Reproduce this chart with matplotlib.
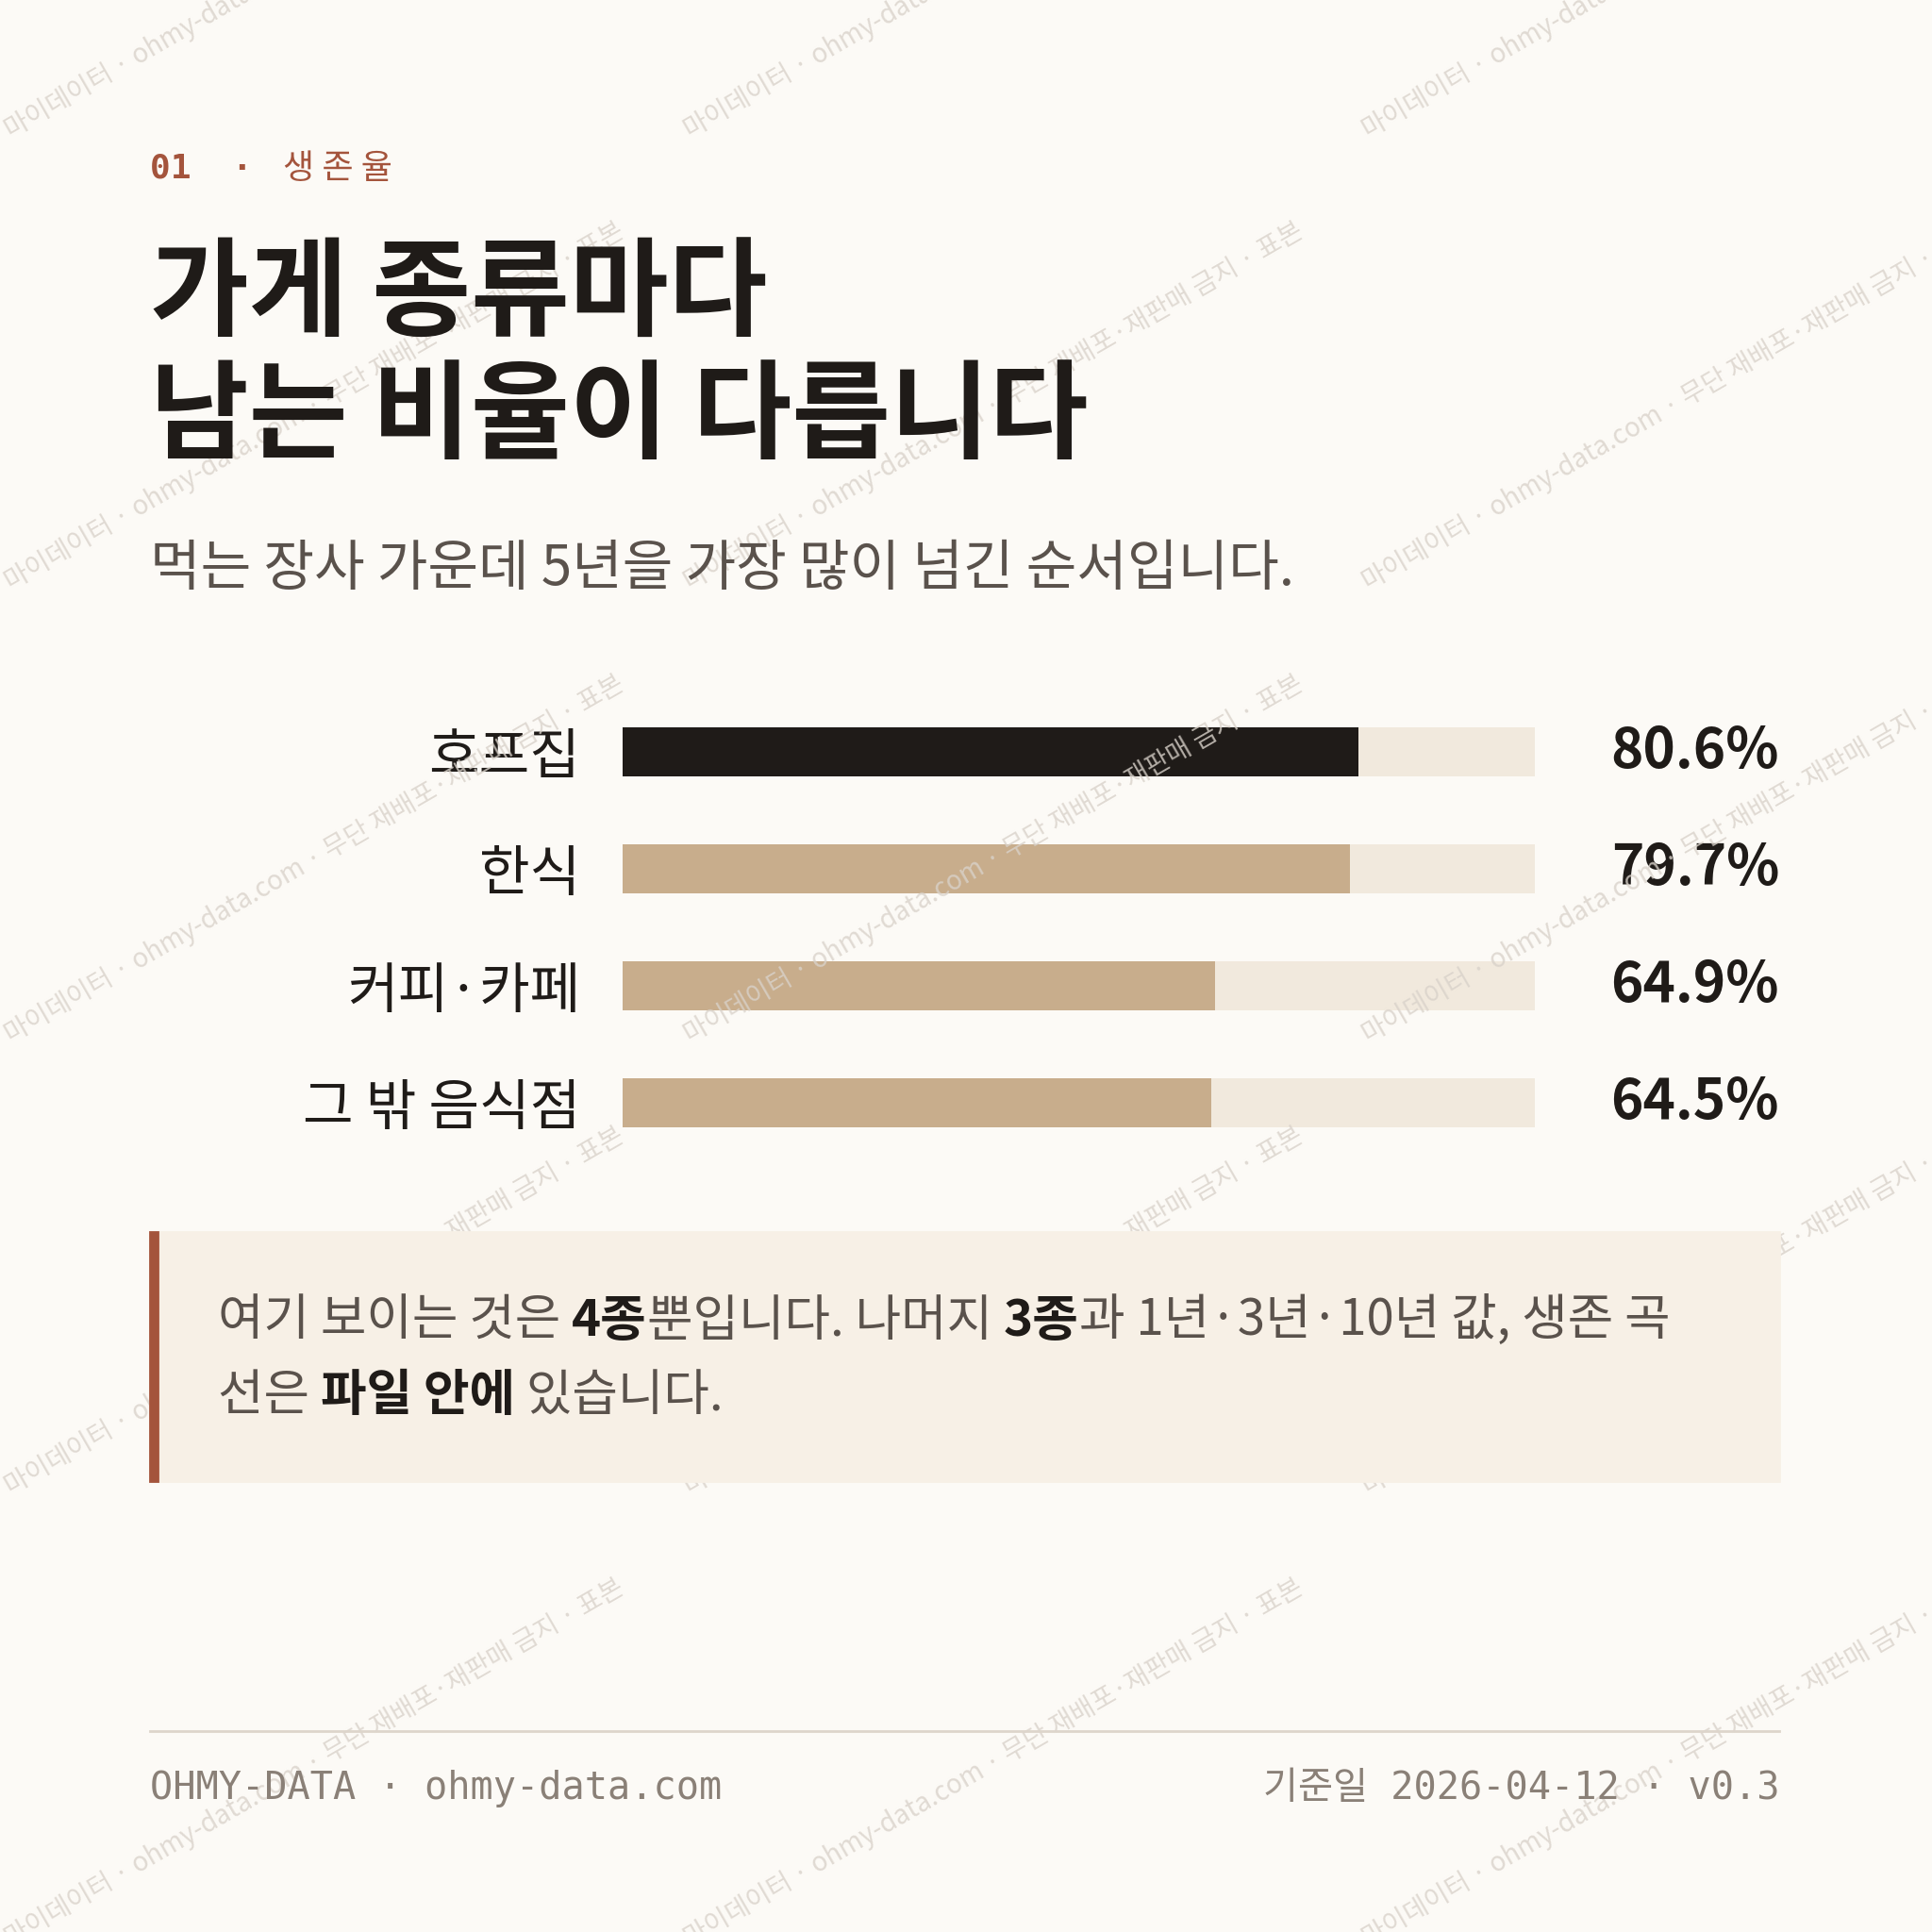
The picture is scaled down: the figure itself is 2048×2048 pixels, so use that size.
import matplotlib
matplotlib.use("Agg")
import matplotlib.pyplot as plt
from matplotlib.patches import Rectangle
from matplotlib.lines import Line2D

KR = ["Noto Sans CJK KR", "DejaVu Sans"]
MONO = ["DejaVu Sans Mono", "Noto Sans CJK KR"]
INK = "#1f1b18"
RUST = "#a4543c"
TAN = "#c8ad8c"
TRACK = "#f1e9dd"
BG = "#fcfaf6"

categories = ["호프집", "한식", "커피·카페", "그 밖 음식점"]
survival = [80.6, 79.7, 64.9, 64.5]
value_labels = ["80.6%", "79.7%", "64.9%", "64.5%"]

S = 1568.0  # layout in reference display px


def fx(x):
    return x / S


def fy(y):
    return 1 - y / S


fig = plt.figure(figsize=(10.24, 10.24), dpi=200, facecolor=BG)

# watermark
wm = "마이데이터 · ohmy-data.com · 무단 재배포·재판매 금지 · 표본"
for row in range(-1, 6):
    for col in range(0, 3):
        x = 0 + col * 551
        y = 330 + row * 367
        fig.text(fx(x), fy(y), wm, rotation=30, fontsize=10, color="#d9d2ca",
                 family=KR, ha="left", va="center", alpha=0.8, zorder=0)

fig.text(fx(122), fy(137), "01  ·  ", fontsize=13, color=RUST, family=MONO,
         weight="bold", va="center")
fig.text(fx(230), fy(137), "생 존 율", fontsize=13, color=RUST, family=KR, va="center")
fig.text(fx(122), fy(240), "가게 종류마다", fontsize=41, color=INK, family=KR,
         weight="bold", va="center")
fig.text(fx(122), fy(340), "남는 비율이 다릅니다", fontsize=41, color=INK, family=KR,
         weight="bold", va="center")
fig.text(fx(122), fy(462), "먹는 장사 가운데 5년을 가장 많이 넘긴 순서입니다.",
         fontsize=21, color="#5a524c", family=KR, va="center")

# bars
ax = fig.add_axes([fx(505), fy(942.5), fx(1246 - 505), (942.5 - 562.5) / S])
ax.set_facecolor("none")
ypos = list(range(len(categories)))
ax.barh(ypos, [100] * len(categories), height=0.42, color=TRACK)
colors = [INK] + [TAN] * (len(categories) - 1)
ax.barh(ypos, survival, height=0.42, color=colors)
ax.set_xlim(0, 100)
ax.set_ylim(len(categories) - 0.5, -0.5)
ax.set_yticks(ypos, categories, family=KR, fontsize=21, color=INK)
ax.tick_params(axis="y", length=0, pad=16)
ax.set_xticks([])
for s in ax.spines.values():
    s.set_visible(False)
for i, lab in enumerate(value_labels):
    ax.text((1444 - 505) / 741 * 100, i, lab, ha="right", va="center",
            fontsize=21, weight="bold", color=INK, family=KR)

# callout
fig.patches.append(Rectangle((fx(122), fy(1202)), fx(1444 - 122), 202 / S,
                             transform=fig.transFigure, color="#f7f0e6", zorder=1))
fig.patches.append(Rectangle((fx(122), fy(1202)), fx(6), 202 / S,
                             transform=fig.transFigure, color=RUST, zorder=2))

renderer = fig.canvas.get_renderer()


def rich(x, y, parts):
    px = x
    for txt, bold in parts:
        t = fig.text(px, y, txt, fontsize=19, family=KR, va="center",
                     color=INK if bold else "#5a524c",
                     weight="bold" if bold else "normal", zorder=3)
        bb = t.get_window_extent(renderer)
        px += bb.width / fig.bbox.width


rich(fx(177), fy(1072), [("여기 보이는 것은 ", False), ("4종", True), ("뿐입니다. 나머지 ", False),
                         ("3종", True), ("과 1년·3년·10년 값, 생존 곡", False)])
rich(fx(177), fy(1133), [("선은 ", False), ("파일 안에", True), (" 있습니다.", False)])

# footer
fig.add_artist(Line2D([fx(122), fx(1444)], [fy(1405), fy(1405)], color="#ddd5cb", lw=1))
fig.text(fx(122), fy(1452), "OHMY-DATA · ohmy-data.com", fontsize=14.5, color="#8a8077",
         family=MONO, va="center")
fig.text(fx(1444), fy(1452), "기준일 2026-04-12 · v0.3", fontsize=14.5, color="#8a8077",
         family=MONO, va="center", ha="right")

fig.savefig("out.png", dpi=200, facecolor=BG)
